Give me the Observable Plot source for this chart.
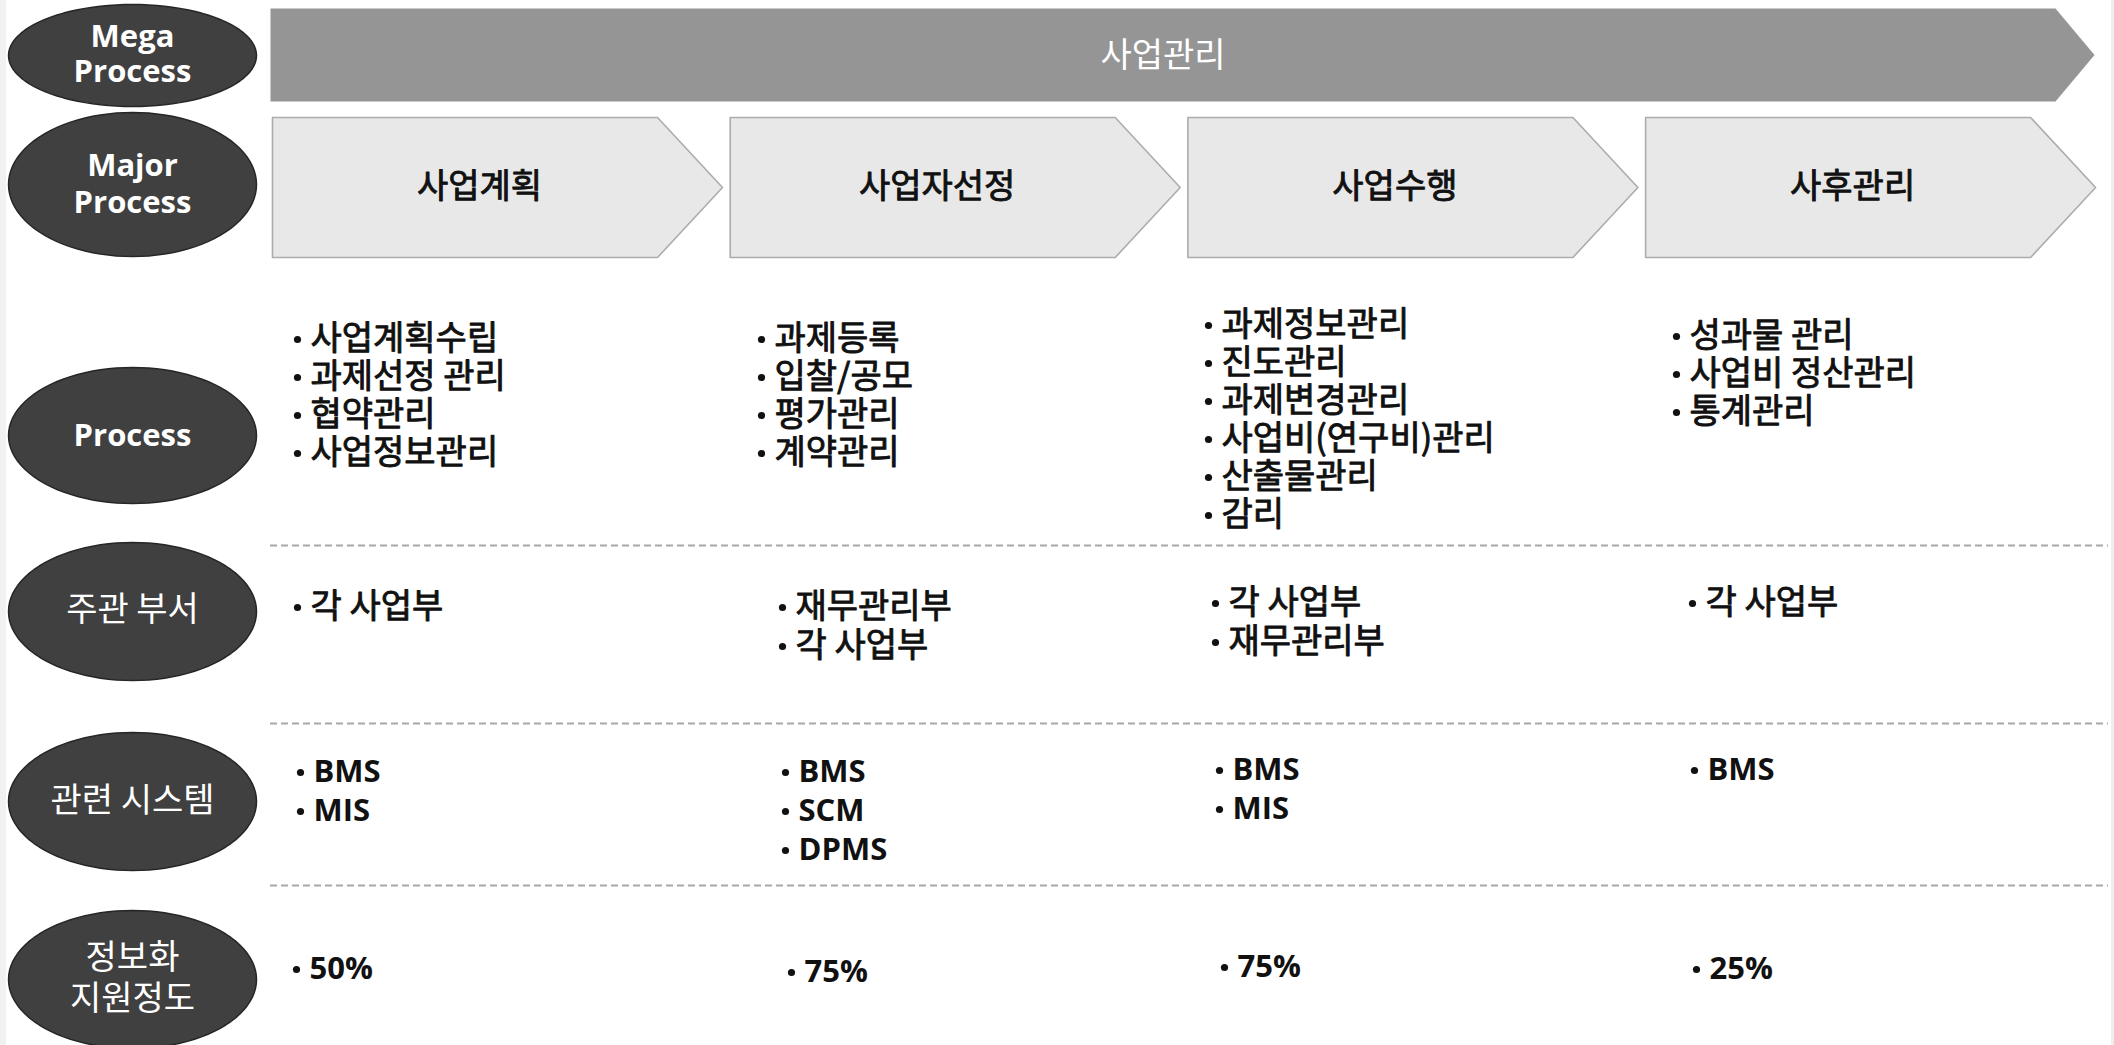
<!DOCTYPE html>
<html><head><meta charset="utf-8">
<script src="https://cdn.jsdelivr.net/npm/d3@7"></script>
<script src="https://cdn.jsdelivr.net/npm/@observablehq/plot@0.6"></script>
<style>
html,body{margin:0;padding:0;background:#fff;}
#chart svg{display:block;}
</style></head><body><div id="chart"></div>
<script>
// ---------- DATA ----------
const rowLabels = ["Mega\nProcess", "Major\nProcess", "Process", "주관 부서", "관련 시스템", "정보화\n지원정도"];
const megaProcess = "사업관리";
const phases = ["사업계획", "사업자선정", "사업수행", "사후관리"];
const processItems = [
  ["사업계획수립", "과제선정 관리", "협약관리", "사업정보관리"],
  ["과제등록", "입찰/공모", "평가관리", "계약관리"],
  ["과제정보관리", "진도관리", "과제변경관리", "사업비(연구비)관리", "산출물관리", "감리"],
  ["성과물 관리", "사업비 정산관리", "통계관리"]
];
const departments = [["각 사업부"], ["재무관리부", "각 사업부"], ["각 사업부", "재무관리부"], ["각 사업부"]];
const systems = [["BMS", "MIS"], ["BMS", "SCM", "DPMS"], ["BMS", "MIS"], ["BMS"]];
const supportLevels = [["50%"], ["75%"], ["75%"], ["25%"]];

// ---------- LAYOUT ----------
const W = 2114, H = 1045;
const ellipses = [
  {cx: 132, cy: 55, rx: 124, ry: 51, y: 37, step: 35, bold: true},
  {cx: 132, cy: 184, rx: 124, ry: 72, y: 166, step: 37, bold: true},
  {cx: 132, cy: 435, rx: 124, ry: 68, y: 436, step: 36, bold: true},
  {cx: 132, cy: 611, rx: 124, ry: 69, y: 610, step: 41, bold: false},
  {cx: 132, cy: 801, rx: 124, ry: 69, y: 801, step: 41, bold: false},
  {cx: 132, cy: 979, rx: 124, ry: 69, y: 958, step: 41, bold: false}
];
const bar = {x1: 270, x2: 2055, tip: 2094, y1: 8, y2: 101};
const chev = {x0: 272, step: 457.7, rect: 385, tip: 450, y1: 117, y2: 257};
const dashedY = [545, 723, 885];
const blocks = [
  {items: processItems, x: [293, 757, 1204, 1672], y: [339, 339, 325, 336], step: 38},
  {items: departments, x: [293, 778, 1211, 1688], y: [607, 607, 603, 603], step: 39},
  {items: systems, x: [296, 781, 1215, 1690], y: [772, 772, 770, 770], step: 39},
  {items: supportLevels, x: [292, 787, 1220, 1692], y: [969, 972, 967, 969], step: 39}
];
const FS_KR = 34, FS_LAT = 31, FS_ELL_LAT = 31, FS_ELL_KR = 34;
// y of a "top"-anchored multi-line text whose first line is centred at yc
const topY = (yc, fs, lh) => yc + 0.32 * fs - 0.71 * lh * fs;

// ---------- GEOMETRY ----------
const ellPts = [];
ellipses.forEach((e, k) => {
  for (let t = 0; t < 96; t++) {
    const a = (t / 96) * 2 * Math.PI;
    ellPts.push({id: k, x: e.cx + e.rx * Math.cos(a), y: e.cy + e.ry * Math.sin(a)});
  }
});
const barPts = [
  {x: bar.x1, y: bar.y1}, {x: bar.x2, y: bar.y1}, {x: bar.tip, y: (bar.y1 + bar.y2) / 2},
  {x: bar.x2, y: bar.y2}, {x: bar.x1, y: bar.y2}
];
const chevPts = [];
const phaseLabels = [];
phases.forEach((p, i) => {
  const L = chev.x0 + chev.step * i, ym = (chev.y1 + chev.y2) / 2;
  [[L, chev.y1], [L + chev.rect, chev.y1], [L + chev.tip, ym], [L + chev.rect, chev.y2], [L, chev.y2]]
    .forEach(([x, y]) => chevPts.push({id: i, x, y}));
  phaseLabels.push({text: p, x: L + 207, y: ym});
});
const bullets = [];
blocks.forEach(b => b.items.forEach((list, c) => list.forEach((s, j) => bullets.push({x: b.x[c] + 4, y: b.y[c] + j * b.step}))));

const font = "'Noto Sans CJK KR', 'Noto Sans', sans-serif";
const latinFont = "'Open Sans', 'Noto Sans', sans-serif";

const cellMarks = [];
blocks.forEach(b => {
  const cells = b.items.map((list, c) => ({text: list.join("\n"), x: b.x[c] + 17, yc: b.y[c], latin: /^[A-Za-z0-9%\n]+$/.test(list.join("\n"))}));
  [false, true].forEach(lat => {
    const fs = lat ? FS_LAT : FS_KR, lh = b.step / fs;
    const sub = cells.filter(d => d.latin === lat);
    if (!sub.length) return;
    cellMarks.push(Plot.text(sub, {
      x: "x", y: d => topY(d.yc, fs, lh), text: "text", textAnchor: "start", lineAnchor: "top", lineHeight: lh,
      fill: "#111", fontSize: fs, fontFamily: lat ? latinFont : font,
      ...(lat ? {fontWeight: "bold"} : {stroke: "#111", strokeWidth: 0.9})
    }));
  });
});
const ellMarks = ellipses.map((e, k) => {
  const fs = e.bold ? FS_ELL_LAT : FS_ELL_KR, lh = e.step / fs;
  return Plot.text([rowLabels[k]], {
    x: () => e.cx, y: () => topY(e.y, fs, lh), text: d => d, lineAnchor: "top", lineHeight: lh,
    fill: "#fff", fontSize: fs, fontFamily: e.bold ? latinFont : font, fontWeight: e.bold ? "bold" : "normal"
  });
});

const chart = Plot.plot({
  width: W, height: H, margin: 0,
  x: {domain: [0, W], range: [0, W], axis: null},
  y: {domain: [0, H], range: [0, H], axis: null},
  style: {background: "#fff", fontFamily: font},
  marks: [
    Plot.rect([{x1: 0, x2: 6, y1: 0, y2: H}], {x1: "x1", x2: "x2", y1: "y1", y2: "y2", fill: "#f1f1f1"}),
    Plot.ruleX([2112], {stroke: "#eeeeee", strokeWidth: 3}),
    Plot.line(barPts, {x: "x", y: "y", fill: "#959595", stroke: "none", curve: "linear-closed"}),
    Plot.line(chevPts, {x: "x", y: "y", z: "id", fill: "#e8e8e8", stroke: "#acacac", strokeWidth: 1.6, curve: "linear-closed"}),
    Plot.line(ellPts, {x: "x", y: "y", z: "id", fill: "#404040", stroke: "#262626", strokeWidth: 1.5, curve: "linear-closed"}),
    Plot.ruleY(dashedY, {x1: 270, x2: 2108, stroke: "#a8a8a8", strokeWidth: 2, strokeDasharray: "7,4"}),
    Plot.text([megaProcess], {x: (bar.x1 + bar.x2) / 2, y: 56, text: d => d, fill: "#fff", fontSize: 34, fontFamily: font}),
    Plot.text(phaseLabels, {x: "x", y: "y", text: "text", fill: "#111", stroke: "#111", strokeWidth: 0.9, fontSize: 34, fontFamily: font}),
    ...ellMarks,
    Plot.dot(bullets, {x: "x", y: "y", r: 3.6, fill: "#111", stroke: "none"}),
    ...cellMarks
  ]
});
document.getElementById("chart").appendChild(chart);
</script></body></html>
